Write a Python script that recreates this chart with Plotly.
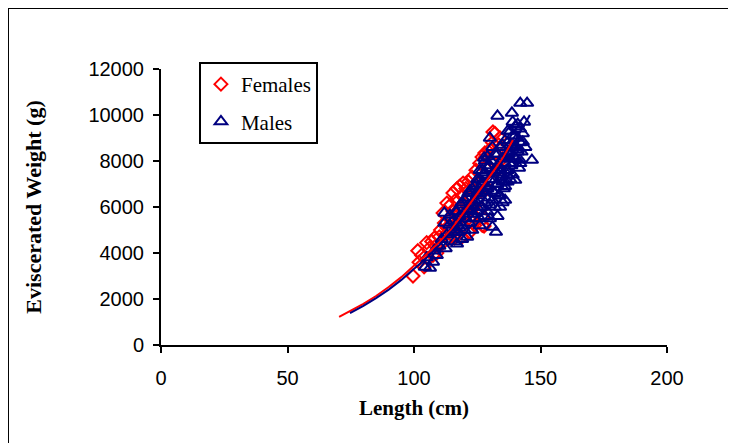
import plotly.graph_objects as go

# ---- data (length cm, eviscerated weight g) ----
female_length = [99.6, 101.5, 102, 103, 104, 105, 105.5, 106, 107, 107.5, 108, 108.5, 109, 110,
                 110.5, 111, 111.5, 112, 112.5, 113, 113, 113.5, 114, 114.5, 115, 115.4, 115.5,
                 116, 116, 116.5, 117, 117.5, 118, 118.5, 119, 119.4, 119.5, 120, 120.5, 121,
                 121.5, 122, 122.5, 123, 123, 123.5, 124, 124.5, 125, 125.5, 126, 126.5, 126.9,
                 127, 127.5, 127.7, 128, 128, 128.5, 129, 129.5, 130, 130.5, 131, 131.2, 131.5,
                 132, 132.5, 133, 133.5, 134, 135, 124, 122, 119, 121, 117]
female_weight = [3000, 4100, 3600, 3900, 3400, 4450, 3750, 4200, 4500, 3900, 4650, 4300, 4000, 4700,
                 5000, 4400, 5740, 5300, 4800, 5100, 6170, 4600, 5500, 6100, 5000, 6610, 5800,
                 4700, 4650, 6300, 6800, 5400, 6900, 5900, 6500, 7040, 5200, 6200, 6800, 5700,
                 7100, 6400, 5400, 7300, 5900, 6000, 6700, 7600, 6300, 7000, 7900, 5900, 8170,
                 5200, 5500, 5170, 7400, 8350, 8200, 6800, 7700, 8500, 7200, 8800, 9260, 7900,
                 9200, 8300, 7600, 8700, 9000, 8100, 5200, 4900, 4700, 6000, 5600]

male_length = [104.3, 106.3, 107.5, 105, 108, 109, 110, 111, 112, 112.5, 113, 114.2, 114, 115,
               115.5, 116, 116.5, 117, 117.5, 118, 118.5, 119, 119.5, 120, 120.5, 121, 121.5,
               122, 122.5, 123, 123.5, 124, 124.5, 125, 125.5, 126, 126.5, 127, 127.7, 127.5,
               128, 128.5, 129, 129.5, 130, 130.5, 131, 131, 131.5, 132.4, 132, 132, 132.5,
               133, 133, 133.5, 134, 134, 134.5, 135, 135.5, 136, 136.5, 137, 137, 137.5, 138,
               138.7, 138.5, 139, 139.5, 140, 140, 140.5, 141, 141.5, 141.9, 141.9, 142, 142.5,
               143, 143.5, 144.7, 146.6, 136, 129, 126, 123, 121, 119, 117, 139, 128, 130,
               112, 134, 136, 138, 140, 127, 125, 131, 133, 135, 137, 139, 141, 129, 127,
               116, 117, 118, 119, 120, 121, 122, 123, 124, 124, 125, 125, 126, 126, 127, 127,
               128, 128, 129, 129, 130, 130, 131, 131, 132, 132, 133, 133, 134, 134, 135, 135,
               135, 136, 136, 137, 137, 138, 138, 138, 139, 139, 140, 140, 141, 141, 142, 142,
               143, 144, 130, 133, 136, 126, 122]
male_weight = [3390, 3350, 3610, 3800, 4100, 3900, 4300, 4600, 5300, 4200, 4800, 5650, 5220, 4900,
               5400, 5000, 5800, 5300, 4900, 5600, 6100, 5200, 5700, 6300, 5500, 5900, 6600,
               5300, 6100, 6800, 5700, 6300, 7000, 5800, 6500, 7200, 6000, 6700, 8130, 7400,
               6200, 6900, 7700, 6400, 7200, 8000, 5130, 6700, 7500, 4910, 6000, 8300, 7000,
               9960, 7800, 6500, 6000, 8600, 7300, 8100, 6800, 8900, 7600, 9300, 7100, 8300, 8700,
               10090, 7800, 9100, 8200, 7170, 9500, 8600, 9000, 7700, 8040, 9400, 10520, 8400,
               8830, 9700, 10520, 8040, 6300, 5800, 5200, 5000, 4700, 4600, 4400, 7400, 8000, 9000,
               5740, 7500, 7900, 8400, 8100, 7000, 6600, 6300, 7000, 7100, 7400, 7900, 8500, 6800, 7600,
               4500, 5800, 5100, 6200, 5000, 6400, 5800, 6200, 5500, 6900, 7200, 6000, 6600, 5500,
               7100, 6000, 7500, 5600, 6800, 8200, 6100, 7800, 7200, 8600, 6600, 7600, 8300, 7000,
               7700, 6500, 8700, 7400, 6200, 8200, 7100, 8800, 7600, 8100, 9300, 7200, 8600, 9700,
               8100, 9100, 8400, 9600, 8800, 7900, 9200, 8600, 5500, 5600, 6900, 7600, 6700]

# fitted curves
female_fit_length = [70.4, 75, 80, 85, 90, 95, 100, 104.3, 110, 115, 120, 126, 130, 135, 139.1]
female_fit_weight = [1220, 1480, 1790, 2130, 2520, 2950, 3430, 3880, 4470, 5060, 5820, 6740, 7350, 8100, 8910]

male_fit_length = [74.7, 80, 85, 90, 95, 100, 105, 110, 115, 120, 125, 130, 135, 140, 143, 145.8]
male_fit_weight = [1390, 1700, 2040, 2410, 2830, 3290, 3790, 4350, 4950, 5630, 6340, 7120, 7960, 8870, 9450, 10000]

x_ticks = [0, 50, 100, 150, 200]
y_ticks = [0, 2000, 4000, 6000, 8000, 10000, 12000]

RED = "#FF0000"
NAVY = "#000080"

fig = go.Figure()
fig.add_trace(go.Scatter(x=female_length, y=female_weight, mode="markers", name="Females",
                         legendgroup="f",
                         marker=dict(symbol="diamond-open", size=10, color=RED,
                                     line=dict(width=2, color=RED))))
fig.add_trace(go.Scatter(x=male_length, y=male_weight, mode="markers", name="Males",
                         legendgroup="m",
                         marker=dict(symbol="triangle-up-open", size=11, color=NAVY,
                                     line=dict(width=2, color=NAVY))))
fig.add_trace(go.Scatter(x=female_fit_length, y=female_fit_weight, mode="lines",
                         line=dict(color=RED, width=2), showlegend=False))
fig.add_trace(go.Scatter(x=male_fit_length, y=male_fit_weight, mode="lines",
                         line=dict(color=NAVY, width=2), showlegend=False))

axis_common = dict(showline=True, linecolor="black", linewidth=2, ticks="outside",
                   ticklen=6, tickwidth=2, tickcolor="black", showgrid=False, zeroline=False,
                   tickfont=dict(family="Liberation Sans, Arial", size=20, color="black"))

fig.update_xaxes(range=[0, 200], tickvals=x_ticks, ticktext=[str(v) for v in x_ticks],
                 ticklabelstandoff=8,
                 title=dict(text="<b>Length (cm)</b>", standoff=12,
                            font=dict(family="Liberation Serif, Times New Roman", size=21, color="black")),
                 automargin=False, **axis_common)
fig.update_yaxes(range=[0, 12000], tickvals=y_ticks, ticktext=[str(v) for v in y_ticks],
                 ticklabelstandoff=5,
                 title=dict(text="<b>Eviscerated Weight (g)</b>", standoff=41,
                            font=dict(family="Liberation Serif, Times New Roman", size=22, color="black")),
                 automargin=False, **axis_common)

fig.update_layout(
    width=736, height=443,
    margin=dict(l=153, r=77, t=61, b=106),
    plot_bgcolor="white", paper_bgcolor="white",
    showlegend=True,
    legend=dict(x=0.075, y=1.0254, xanchor="left", yanchor="top",
                bordercolor="black", borderwidth=2, bgcolor="white",
                tracegroupgap=7, itemwidth=30,
                font=dict(family="Liberation Serif, Times New Roman", size=21, color="black")),
    shapes=[dict(type="rect", xref="paper", yref="paper",
                 x0=-0.3024, x1=1.3, y0=-0.5, y1=1.221,
                 line=dict(color="black", width=2), fillcolor="rgba(0,0,0,0)", layer="below")],
)

fig.write_html("out.html")
